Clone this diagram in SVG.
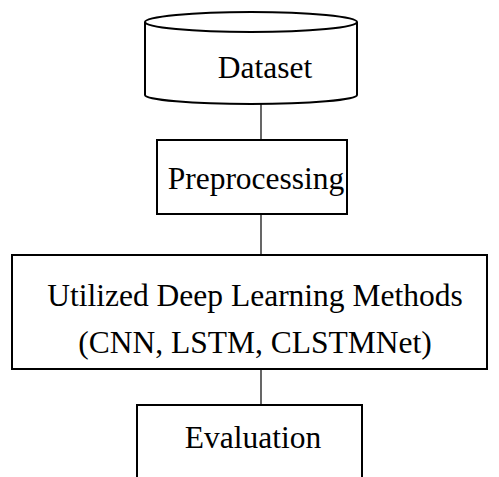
<svg xmlns="http://www.w3.org/2000/svg" width="499" height="477" viewBox="0 0 499 477">
  <style>
    .shape { fill: #ffffff; stroke: #000000; stroke-width: 2; }
    .link { stroke: #000000; stroke-width: 1.2; fill: none; }
    .label { font-family: "Liberation Serif", "Times New Roman", serif; font-size: 31.5px; fill: #000000; text-anchor: middle; }
  </style>
  <rect width="499" height="477" fill="#ffffff"/>

  <g id="connectors">
    <line class="link" x1="261" y1="104" x2="261" y2="140"/>
    <line class="link" x1="261" y1="214" x2="261" y2="255"/>
    <line class="link" x1="261" y1="369" x2="261" y2="405"/>
  </g>

  <g id="dataset">
    <path class="shape" d="M145,22 L145,95 A106,9 0 0 0 357,95 L357,22"/>
    <ellipse class="shape" cx="251" cy="22" rx="106" ry="10"/>
    <text class="label" x="265" y="78">Dataset</text>
  </g>

  <g id="preprocessing">
    <rect class="shape" x="157" y="140" width="190" height="74"/>
    <text class="label" x="256" y="189">Preprocessing</text>
  </g>

  <g id="methods">
    <rect class="shape" x="12" y="255" width="475" height="114"/>
    <text class="label" x="255" y="306">Utilized Deep Learning Methods</text>
    <text class="label" x="255" y="353">(CNN, LSTM, CLSTMNet)</text>
  </g>

  <g id="evaluation">
    <path class="shape" d="M137,478 L137,405 L362,405 L362,478"/>
    <text class="label" x="253" y="448">Evaluation</text>
  </g>
</svg>
